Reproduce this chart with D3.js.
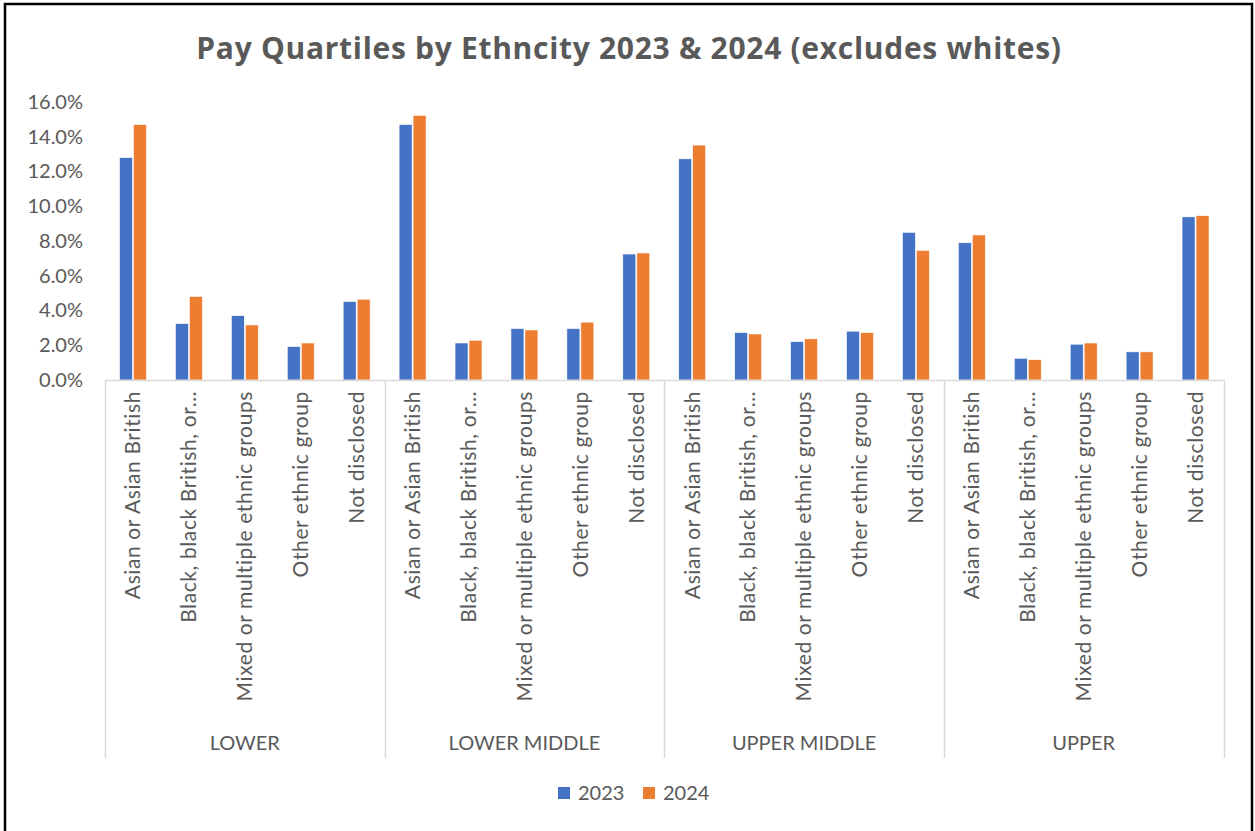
<!DOCTYPE html>
<html>
<head>
<meta charset="utf-8">
<script src="https://cdn.jsdelivr.net/npm/d3@7"></script>
<style>
  body { margin: 0; background: #fff; }
  svg { display: block; font-family: Lato, "Open Sans", sans-serif; }
</style>
</head>
<body>
<script>
// pay quartile groups and ethnic categories (labels as shown on the axis)
const quartiles = ["LOWER", "LOWER MIDDLE", "UPPER MIDDLE", "UPPER"];
const ethnicities = [
  "Asian or Asian British",
  "Black, black British, or…",
  "Mixed or multiple ethnic groups",
  "Other ethnic group",
  "Not disclosed"
];
const years = ["2023", "2024"];

// percentages, one row per quartile, in ethnicity order
const values2023 = [
  [12.8, 3.25, 3.7, 1.92, 4.52],
  [14.7, 2.13, 2.96, 2.96, 7.25],
  [12.73, 2.73, 2.21, 2.81, 8.5],
  [7.9, 1.25, 2.06, 1.62, 9.39]
];
const values2024 = [
  [14.7, 4.81, 3.17, 2.13, 4.65],
  [15.23, 2.29, 2.88, 3.33, 7.31],
  [13.52, 2.65, 2.37, 2.73, 7.46],
  [8.35, 1.17, 2.13, 1.62, 9.46]
];
const yTicks = [0, 2, 4, 6, 8, 10, 12, 14, 16];

const width = 1255, height = 831;
const colors = { "2023": "#4472C4", "2024": "#ED7D31" };
const textColor = "#595959";
const lineColor = "#d9d9d9";

const margin = { left: 105, right: 1223.5, top: 102, base: 380 };

const svg = d3.select("body").append("svg")
  .attr("width", width)
  .attr("height", height);

svg.append("rect")
  .attr("x", 5).attr("y", 4)
  .attr("width", 1247).attr("height", 900)
  .attr("fill", "#fff")
  .attr("stroke", "#000")
  .attr("stroke-width", 2.5);

// flatten the rows
const rows = [];
quartiles.forEach((q, qi) => {
  ethnicities.forEach((e, ei) => {
    rows.push({ key: q + "|" + e, quartile: q, ethnicity: e,
      "2023": values2023[qi][ei], "2024": values2024[qi][ei] });
  });
});

const x0 = d3.scaleBand()
  .domain(rows.map(d => d.key))
  .range([margin.left, margin.right]);

const x1 = d3.scaleBand()
  .domain(years)
  .range([0, x0.bandwidth()])
  .paddingOuter(1);

const y = d3.scaleLinear()
  .domain([0, 16])
  .range([margin.base, margin.top]);

// title
svg.append("text")
  .attr("x", 629).attr("y", 59)
  .attr("text-anchor", "middle")
  .attr("font-family", "'Open Sans', sans-serif")
  .attr("font-size", 30)
  .attr("letter-spacing", 0.7)
  .attr("font-weight", "bold")
  .attr("fill", textColor)
  .text("Pay Quartiles by Ethncity 2023 & 2024 (excludes whites)");

// y axis, labels only
const yAxis = svg.append("g")
  .attr("transform", `translate(${margin.left - 22},0)`)
  .call(d3.axisLeft(y).tickValues(yTicks).tickFormat(d => d.toFixed(1) + "%").tickSize(0).tickPadding(0));
yAxis.select(".domain").remove();
yAxis.selectAll("text")
  .attr("font-family", "Lato, sans-serif")
  .attr("font-size", 20)
  .attr("fill", textColor);

// bars
const groups = svg.append("g").selectAll("g")
  .data(rows)
  .join("g")
  .attr("transform", d => `translate(${x0(d.key)},0)`);

groups.selectAll("rect")
  .data(d => years.map(yr => ({ year: yr, value: d[yr] })))
  .join("rect")
  .attr("x", d => x1(d.year) + 0.5)
  .attr("width", x1.bandwidth() - 1)
  .attr("y", d => y(d.value))
  .attr("height", d => y(0) - y(d.value))
  .attr("fill", d => colors[d.year])
  .attr("stroke", "#fff")
  .attr("stroke-width", 0.6);

// category axis line
svg.append("line")
  .attr("x1", margin.left).attr("x2", margin.right)
  .attr("y1", y(0) + 0.5).attr("y2", y(0) + 0.5)
  .attr("stroke", lineColor).attr("stroke-width", 1.5);

// group separators
const groupEdges = quartiles.map((q, i) => x0(q + "|" + ethnicities[0])).concat([margin.right]);
svg.append("g").selectAll("line")
  .data(groupEdges)
  .join("line")
  .attr("x1", d => Math.round(d) + 0.5).attr("x2", d => Math.round(d) + 0.5)
  .attr("y1", y(0)).attr("y2", 758)
  .attr("stroke", lineColor).attr("stroke-width", 1.5);

// rotated category labels
svg.append("g").selectAll("text")
  .data(rows)
  .join("text")
  .attr("transform", d => `translate(${x0(d.key) + x0.bandwidth() / 2},391) rotate(-90)`)
  .attr("dy", "0.35em")
  .attr("text-anchor", "end")
  .attr("font-size", 21)
  .attr("letter-spacing", 0.6)
  .attr("fill", textColor)
  .text(d => d.ethnicity);

// quartile labels
svg.append("g").selectAll("text")
  .data(quartiles)
  .join("text")
  .attr("x", (q, i) => (groupEdges[i] + groupEdges[i + 1]) / 2)
  .attr("y", 750)
  .attr("text-anchor", "middle")
  .attr("font-size", 20)
  .attr("fill", textColor)
  .text(d => d);

// legend
const legend = svg.append("g").selectAll("g")
  .data(years)
  .join("g")
  .attr("transform", (d, i) => `translate(${558 + i * 85},787)`);
legend.append("rect")
  .attr("width", 12).attr("height", 12)
  .attr("fill", d => colors[d]);
legend.append("text")
  .attr("x", 20).attr("y", 6)
  .attr("dy", "0.35em")
  .attr("font-size", 20)
  .attr("fill", textColor)
  .text(d => d);
</script>
</body>
</html>
